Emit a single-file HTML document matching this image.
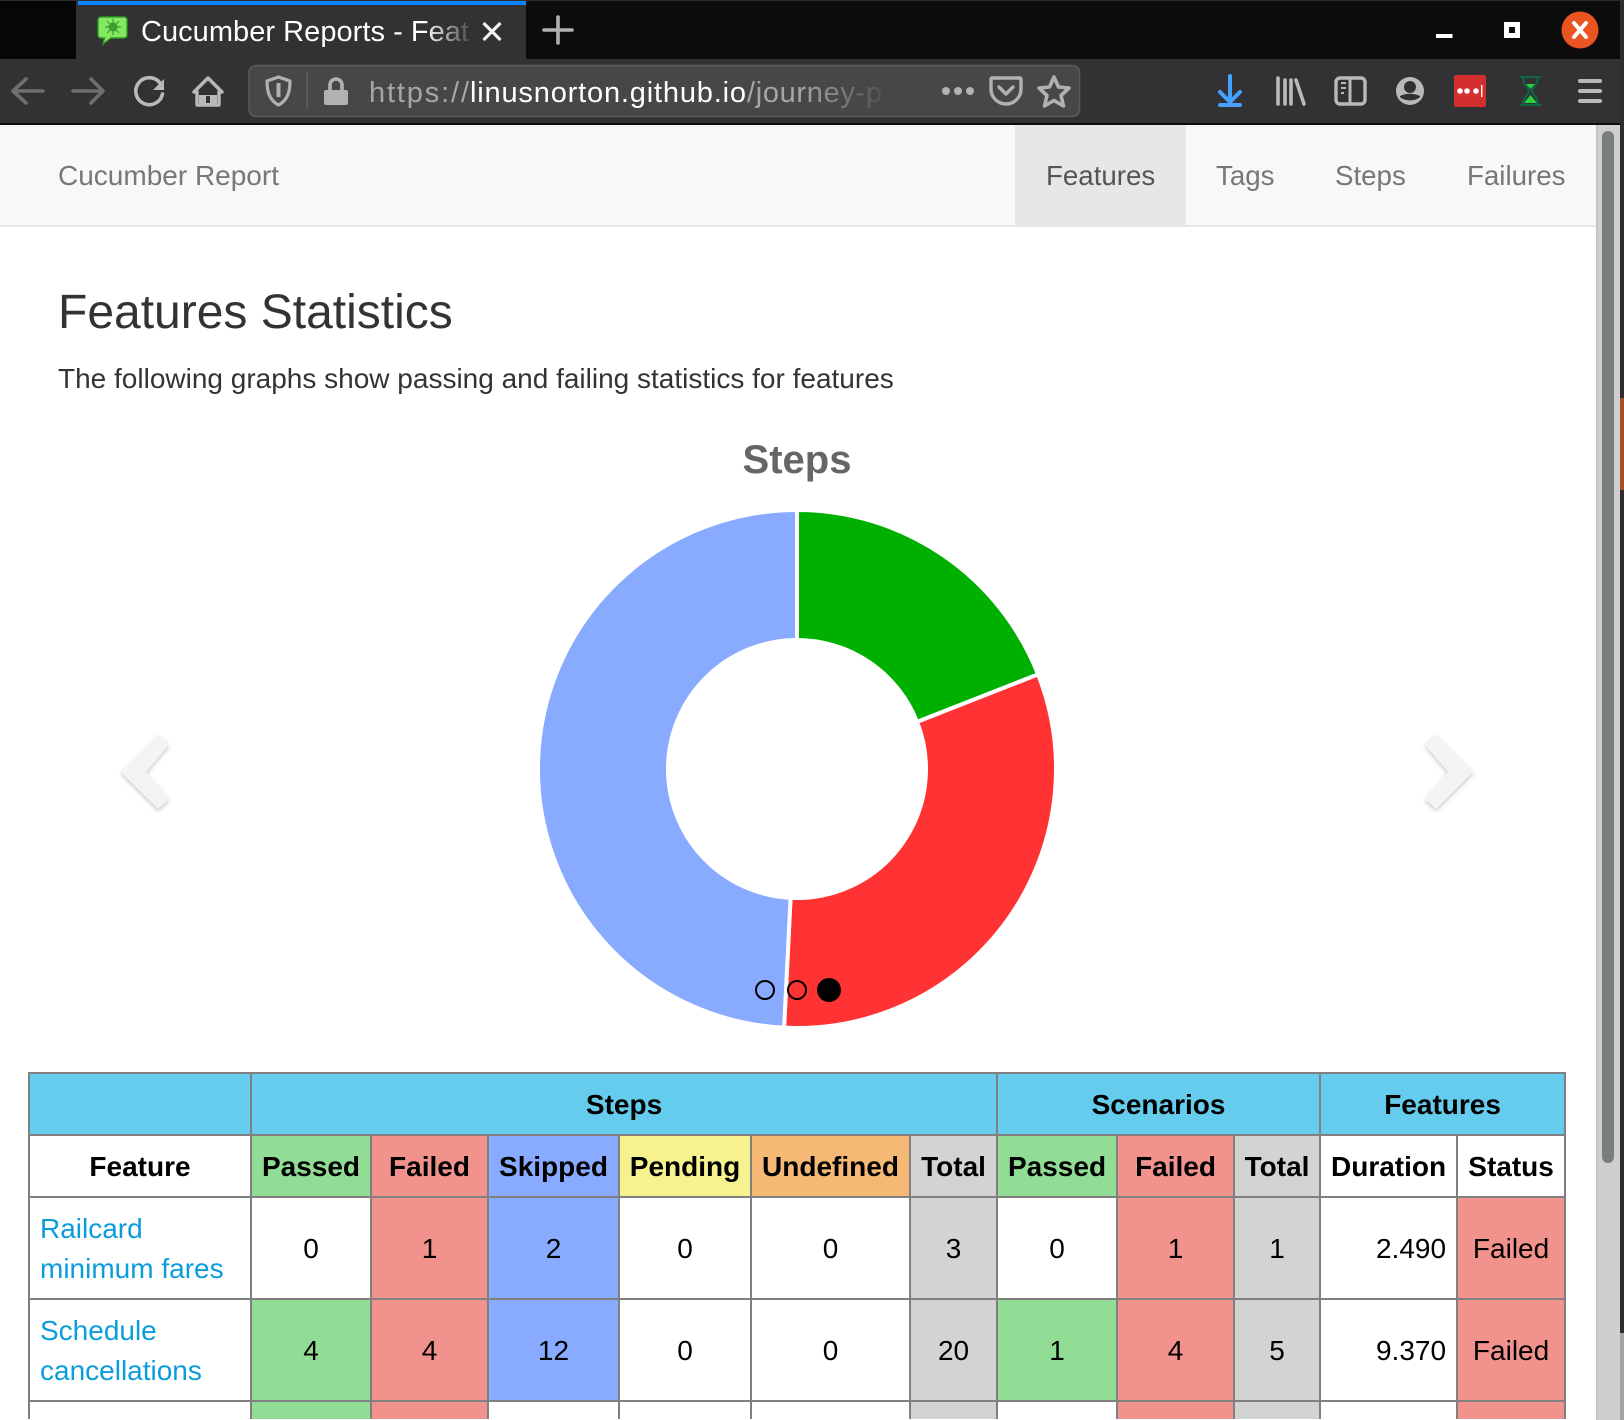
<!DOCTYPE html>
<html lang="en">
<head>
<meta charset="utf-8">
<title>Cucumber Reports - Features</title>
<style>
html,body{margin:0;padding:0;width:1624px;height:1420px;overflow:hidden;background:#fff;font-family:"Liberation Sans",sans-serif;}
#frame{position:relative;width:1624px;height:1420px;overflow:hidden;background:#fff;}
.abs{position:absolute;white-space:nowrap;}
#chrome{position:absolute;left:0;top:0;width:1624px;height:125px;}
#navbar{position:absolute;left:0;top:125px;width:1596px;height:100px;background:#f8f8f8;border-bottom:2px solid #e7e7e7;}
#nav-active{position:absolute;left:1015px;top:125px;width:171px;height:100px;background:#e7e7e7;}
.nav{font-size:27.7px;line-height:40px;top:156px;color:#777;}
h2,p{margin:0;font-weight:normal;color:#333;}
#title{left:58px;top:283px;font-size:48px;line-height:60px;}
#lead{left:58px;top:359px;font-size:28px;line-height:40px;}
#stats{position:absolute;left:28px;top:1072px;border-collapse:collapse;table-layout:fixed;width:1536px;font-size:28px;color:#000;}
#stats td,#stats th{border:2px solid #808080;padding:2px 10px 0;text-align:center;line-height:40px;overflow:hidden;white-space:nowrap;box-sizing:border-box;}
#stats th{font-weight:bold;padding:2px 2px 0;}
#stats tr.h1{height:62px;}
#stats tr.h2{height:62px;}
#stats tr.b{height:102px;}
#stats tr.c{height:18px;}
#stats tr.c td{padding:0;line-height:0;font-size:0;border-bottom:0;}
#stats td.f{text-align:left;white-space:normal;padding:2px 10px 0;}
#stats td.f a{color:#0b9ddb;text-decoration:none;}
#stats td.d{text-align:right;}
#stats td.s{padding:2px 0 0;}
.hd{background:#66ccee;}
.pa{background:#92dd96;}
.fa{background:#f2928c;}
.sk{background:#88aaff;}
.pe{background:#f5f28f;}
.un{background:#f5b975;}
.to{background:#d3d3d3;}
#scroll-track{position:absolute;left:1596px;top:125px;width:24px;height:1295px;background:#cfcfcf;border-left:2px solid #c6c3c0;box-sizing:border-box;}
#scroll-thumb{position:absolute;left:1602px;top:131px;width:12px;height:1032px;background:#7b7e7f;border-radius:6px;}
#desk-a{position:absolute;left:1620px;top:0;width:4px;height:1333px;background:#2e2e2e;}
#desk-b{position:absolute;left:1620px;top:398px;width:4px;height:92px;background:#a84e2a;}
#desk-c{position:absolute;left:1620px;top:1333px;width:4px;height:87px;background:#a3a3a3;}
#chart{position:absolute;left:0;top:400px;width:1624px;height:660px;}
.slice-passed{fill:#00b000;}
.slice-failed{fill:#ff3333;}
.slice-skipped{fill:#88aaff;}
.slice{stroke:#fff;stroke-width:4px;}
.dot{position:absolute;box-sizing:border-box;border-radius:50%;}
.arrow{fill:#f4f4f4;stroke:#f4f4f4;stroke-width:3;stroke-linejoin:round;filter:drop-shadow(0 2px 2px rgba(0,0,0,.22));}
</style>
</head>
<body>
<div id="frame">

<svg id="chrome" viewBox="0 0 1624 125">
  <defs>
    <linearGradient id="tabfade" gradientUnits="userSpaceOnUse" x1="425" y1="0" x2="470" y2="0">
      <stop offset="0" stop-color="#ffffff"/><stop offset="1" stop-color="#4a4a4c"/>
    </linearGradient>
    <linearGradient id="urlfade" gradientUnits="userSpaceOnUse" x1="800" y1="0" x2="884" y2="0">
      <stop offset="0" stop-color="#a6a6a8"/><stop offset="1" stop-color="#505052"/>
    </linearGradient>
  </defs>
  <rect x="0" y="0" width="1624" height="125" fill="#0c0c0c"/>
  <rect x="0" y="0" width="1624" height="1" fill="#2b2b2b"/>
  <rect x="0" y="1" width="76" height="58" fill="#060606"/>
  <rect x="0" y="59" width="1620" height="64" fill="#323234"/>
  <rect x="0" y="123" width="1620" height="2" fill="#0c0c0c"/>

  <g>
    <rect x="76" y="1" width="450" height="58" fill="#323234"/>
    <rect x="78" y="1" width="448" height="4" fill="#0a84ff"/>
    <g>
      <path d="M101 17h23a3 3 0 0 1 3 3v15a3 3 0 0 1-3 3h-13l-8 6 1.500-6h-3.500a3 3 0 0 1-3-3V20a3 3 0 0 1 3-3z" fill="#84e861" stroke="#2c9a22" stroke-width="1.400"/>
      <circle cx="113" cy="27" r="4.500" fill="#3b9b2c"/>
      <path d="M113 19v16M105 27h16M107 21l12 12M119 21l-12 12" stroke="#3f9f33" stroke-width="1.200"/>
    </g>
    <text x="141" y="41" font-size="29" fill="url(#tabfade)" textLength="328" lengthAdjust="spacing">Cucumber Reports - Feat</text>
    <path d="M483.500 23l17 17M500.500 23l-17 17" stroke="#f2f2f2" stroke-width="3.200"/>
  </g>
  <path d="M544 30h28M558 17v26" stroke="#b1b1b3" stroke-width="3.600" stroke-linecap="round"/>

  <rect x="1436" y="34" width="16.500" height="4" fill="#fff"/>
  <path d="M1504 22h16v16h-16z M1509 27v6h6v-6z" fill="#fff" fill-rule="evenodd"/>
  <g>
    <ellipse cx="1580" cy="30" rx="18.500" ry="18.500" fill="#e95420"/>
    <path d="M1574 23l12 14M1586 23l-12 14" stroke="#fff" stroke-width="4" stroke-linecap="round"/>
  </g>

  <path d="M43 91H14M26 79L13 91l13 12" fill="none" stroke="#6f6f71" stroke-width="3.600" stroke-linecap="round" stroke-linejoin="round"/>
  <path d="M73 91h29M91 79l12 12-12 12" fill="none" stroke="#6f6f71" stroke-width="3.600" stroke-linecap="round" stroke-linejoin="round"/>
  <g>
    <path d="M160 83a13.500 13.500 0 1 0 2.500 11" fill="none" stroke="#b9b9bb" stroke-width="3.600" stroke-linecap="round"/>
    <path d="M164 79v11h-11z" fill="#b9b9bb"/>
  </g>
  <g>
    <path d="M208 78l-14 14h3v13h22V92h3z" fill="none" stroke="#b9b9bb" stroke-width="3.400" stroke-linejoin="round"/>
    <rect x="199" y="95" width="18" height="11" fill="#b9b9bb"/>
    <rect x="206" y="96" width="4" height="7" fill="#323234"/>
  </g>

  <g>
    <rect x="249" y="65.500" width="830.500" height="51" rx="7" fill="#474749" stroke="#5a5a5c" stroke-width="1.500"/>
    <path d="M267 81l11.500-4 11.500 4c0 10-2 19-11.500 24-9.500-5-11.500-14-11.500-24z" fill="none" stroke="#b1b1b3" stroke-width="3.200" stroke-linejoin="round"/>
    <path d="M278.500 83v14" stroke="#b1b1b3" stroke-width="4"/>
    <rect x="306.500" y="73" width="1.500" height="36" fill="#5f5f62"/>
    <g>
      <rect x="324" y="90" width="24" height="15" rx="2" fill="#b1b1b3"/>
      <path d="M330 90v-5a6 6 0 0 1 12 0v5" fill="none" stroke="#b1b1b3" stroke-width="3.600"/>
    </g>
    <text x="369" y="102" font-size="29" fill="#a6a6a8" textLength="100" lengthAdjust="spacing">https://</text>
    <text x="470" y="102" font-size="29" fill="#ffffff" textLength="276" lengthAdjust="spacing">linusnorton.github.io</text>
    <text x="747" y="102" font-size="29" fill="url(#urlfade)" textLength="135" lengthAdjust="spacing">/journey-p</text>
    <g fill="#b1b1b3">
      <circle cx="946" cy="91" r="4"/><circle cx="958" cy="91" r="4"/><circle cx="970" cy="91" r="4"/>
    </g>
    <g fill="none" stroke="#b1b1b3">
      <path d="M992 78h28a1 1 0 0 1 1 1v10a15 15 0 0 1-30 0V79a1 1 0 0 1 1-1z" stroke-width="3.400"/>
      <path d="M999 87l7 7 7-7" stroke-width="3.400" stroke-linecap="round" stroke-linejoin="round"/>
    </g>
    <path d="M1054 77l4.500 10 10.500 1-8 7.500 2.500 10.500-9.500-5.500-9.500 5.500 2.500-10.500-8-7.500 10.500-1z" fill="none" stroke="#b1b1b3" stroke-width="3.600" stroke-linejoin="round"/>
  </g>

  <g>
    <path d="M1230 76v26M1220 92l10 10 10-10" fill="none" stroke="#45a1ff" stroke-width="4" stroke-linecap="round" stroke-linejoin="round"/>
    <rect x="1218" y="103" width="24" height="4" rx="2" fill="#45a1ff"/>
  </g>
  <path d="M1278 78v26M1285 80v24M1291 80v24M1296 80l8 24" fill="none" stroke="#b9b9bb" stroke-width="3.600" stroke-linecap="round"/>
  <g fill="none" stroke="#b9b9bb">
    <rect x="1336" y="78" width="29" height="26" rx="4" stroke-width="3.400"/>
    <path d="M1350 78v26" stroke-width="3"/>
    <path d="M1341 83h5M1341 88h5M1341 93h3" stroke-width="2"/>
  </g>
  <g>
    <circle cx="1410" cy="91" r="14" fill="#b9b9bb"/>
    <circle cx="1410" cy="87" r="6" fill="#323234"/>
    <path d="M1400 97c4 4.500 16 4.500 20 0v-1c-6 -3-14-3-20 0z" fill="#323234"/>
  </g>
  <g>
    <rect x="1454" y="75" width="32" height="32" rx="2" fill="#d32f2f"/>
    <circle cx="1460" cy="91" r="2.800" fill="#fff"/><circle cx="1467" cy="91" r="2.800" fill="#fff"/><circle cx="1476" cy="91" r="2.800" fill="#fff"/>
    <rect x="1481" y="85" width="1.400" height="12" fill="#fff"/>
  </g>
  <g>
    <path d="M1520 77h21M1520 105h21M1523 77c0 9 6 10 6 14s-6 5-6 14M1538 77c0 9-6 10-6 14s6 5 6 14" fill="none" stroke="#0f6640" stroke-width="2"/>
    <path d="M1526 84h9l-4.500 5z" fill="#2ad13f"/>
    <path d="M1524 103h13l-6.500-8z" fill="#2ad13f"/>
  </g>
  <path d="M1580 81h20M1580 91h20M1580 101h20" stroke="#b9b9bb" stroke-width="4" stroke-linecap="round"/>
</svg>

<div id="navbar"></div>
<div id="nav-active"></div>
<a class="abs nav" style="left:58px;font-size:28px">Cucumber Report</a>
<a class="abs nav" style="left:1046px;color:#555">Features</a>
<a class="abs nav" style="left:1216px">Tags</a>
<a class="abs nav" style="left:1335px">Steps</a>
<a class="abs nav" style="left:1467px">Failures</a>

<h2 id="title" class="abs">Features Statistics</h2>
<p id="lead" class="abs">The following graphs show passing and failing statistics for features</p>

<svg id="chart" viewBox="0 400 1624 660">
  <text x="797" y="473" text-anchor="middle" font-family="'Liberation Sans',sans-serif" font-weight="bold" font-size="40" fill="#666">Steps</text>
  <g id="slices"></g>
  <polygon class="arrow" points="123,772 158,737 167,745 144,772 167,799 158,807"/>
  <polygon class="arrow" points="1471,772 1436,737 1427,745 1450,772 1427,799 1436,807"/>
</svg>

<div class="dot" style="left:755px;top:980px;width:20px;height:20px;border:2px solid #000"></div>
<div class="dot" style="left:787px;top:980px;width:20px;height:20px;border:2px solid #000"></div>
<div class="dot" style="left:817px;top:978px;width:24px;height:24px;background:#000"></div>

<table id="stats">
  <colgroup>
    <col style="width:222px"><col style="width:120px"><col style="width:117px"><col style="width:131px"><col style="width:132px"><col style="width:159px"><col style="width:87px"><col style="width:120px"><col style="width:117px"><col style="width:86px"><col style="width:137px"><col style="width:108px">
  </colgroup>
  <tr class="h1">
    <th class="hd"></th>
    <th class="hd" colspan="6">Steps</th>
    <th class="hd" colspan="3">Scenarios</th>
    <th class="hd" colspan="2">Features</th>
  </tr>
  <tr class="h2">
    <th>Feature</th>
    <th class="pa">Passed</th>
    <th class="fa">Failed</th>
    <th class="sk">Skipped</th>
    <th class="pe">Pending</th>
    <th class="un">Undefined</th>
    <th class="to">Total</th>
    <th class="pa">Passed</th>
    <th class="fa">Failed</th>
    <th class="to">Total</th>
    <th>Duration</th>
    <th>Status</th>
  </tr>
  <tr class="b">
    <td class="f"><a>Railcard minimum fares</a></td>
    <td>0</td>
    <td class="fa">1</td>
    <td class="sk">2</td>
    <td>0</td>
    <td>0</td>
    <td class="to">3</td>
    <td>0</td>
    <td class="fa">1</td>
    <td class="to">1</td>
    <td class="d">2.490</td>
    <td class="fa s">Failed</td>
  </tr>
  <tr class="b">
    <td class="f"><a>Schedule cancellations</a></td>
    <td class="pa">4</td>
    <td class="fa">4</td>
    <td class="sk">12</td>
    <td>0</td>
    <td>0</td>
    <td class="to">20</td>
    <td class="pa">1</td>
    <td class="fa">4</td>
    <td class="to">5</td>
    <td class="d">9.370</td>
    <td class="fa s">Failed</td>
  </tr>
  <tr class="c">
    <td></td>
    <td class="pa"></td>
    <td class="fa"></td>
    <td></td>
    <td></td>
    <td></td>
    <td class="to"></td>
    <td></td>
    <td class="fa"></td>
    <td class="to"></td>
    <td></td>
    <td class="fa"></td>
  </tr>
</table>

<div id="scroll-track"></div>
<div id="scroll-thumb"></div>
<div id="desk-a"></div>
<div id="desk-b"></div>
<div id="desk-c"></div>
</div>

<script>
const categories = ['passed', 'failed', 'skipped'];
const stepCounts = [12, 20, 31];

const svgNS = 'http://www.w3.org/2000/svg';
const centerX = 797, centerY = 769, outerR = 259, innerR = 129;
const total = stepCounts.reduce((a, b) => a + b, 0);

function angleOf(cumulative) {
  return (cumulative / total) * 2 * Math.PI - Math.PI / 2;
}
function polar(r, a) {
  return (centerX + r * Math.cos(a)).toFixed(2) + ' ' + (centerY + r * Math.sin(a)).toFixed(2);
}
function arcPath(a0, a1) {
  const large = a1 - a0 > Math.PI ? 1 : 0;
  return 'M' + polar(outerR, a0) +
    ' A' + outerR + ' ' + outerR + ' 0 ' + large + ' 1 ' + polar(outerR, a1) +
    ' L' + polar(innerR, a1) +
    ' A' + innerR + ' ' + innerR + ' 0 ' + large + ' 0 ' + polar(innerR, a0) + ' Z';
}

const group = document.getElementById('slices');
let running = 0;
stepCounts.forEach(function (value, i) {
  const el = document.createElementNS(svgNS, 'path');
  el.setAttribute('d', arcPath(angleOf(running), angleOf(running + value)));
  el.setAttribute('class', 'slice slice-' + categories[i]);
  
  
  group.appendChild(el);
  running += value;
});
</script>
</body>
</html>
